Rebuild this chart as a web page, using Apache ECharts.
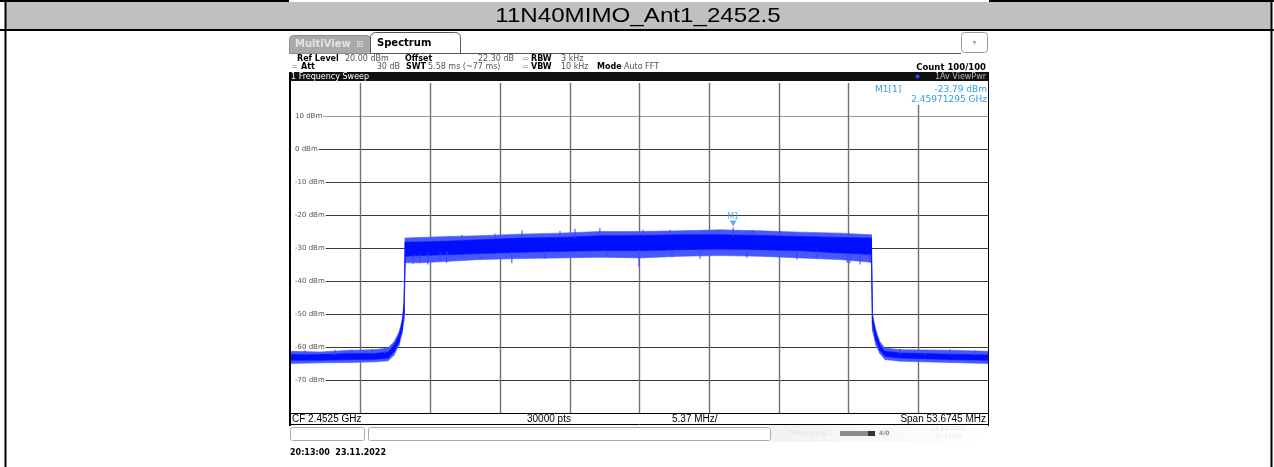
<!DOCTYPE html>
<html>
<head>
<meta charset="utf-8">
<script src="https://cdn.jsdelivr.net/npm/echarts@6/dist/echarts.min.js"></script>
<style>
html,body{margin:0;padding:0;background:#fff;}
#main{width:1274px;height:467px;}
</style>
</head>
<body>
<div id="main"></div>
<script>
// sweep: CF 2.4525 GHz, span 53.6745 MHz -> x is offset from CF in MHz
var span = 53.6745;
var mhzPerDiv = span / 10;
var yMin = -80, yMax = 20, yStep = 10;

// trace envelope (MHz offset, dBm)
var freq    = [-26.84, -24.60, -22.30, -20.37, -19.37, -18.91, -18.52, -18.29, -18.14, -18.04, -16.90, -14.59, -12.29, -9.20, -6.12, -3.04, 0.04, 3.12, 6.20, 9.27, 12.35, 15.44, 17.86, 17.94, 18.21, 18.52, 18.90, 20.06, 23.91, 26.84];
var outerHi = [-61.3, -61.5, -61.0, -60.8, -60.3, -58.5, -55.5, -52.0, -47.0, -27.0, -26.8, -26.5, -26.3, -25.8, -25.5, -25.0, -25.0, -24.8, -24.5, -24.8, -25.2, -25.5, -26.0, -50.0, -55.0, -58.5, -60.3, -60.8, -61.0, -61.3];
var coreHi  = [-62.3, -62.3, -62.0, -62.0, -61.5, -59.5, -56.5, -53.0, -48.0, -28.2, -28.2, -27.9, -27.5, -27.0, -26.8, -26.3, -26.2, -26.0, -26.0, -26.2, -26.5, -26.8, -27.0, -51.0, -56.0, -59.5, -61.3, -61.8, -62.2, -62.4];
var coreLo  = [-64.0, -64.0, -63.8, -63.7, -63.3, -61.5, -58.5, -55.0, -50.0, -32.5, -32.3, -32.0, -31.7, -31.3, -31.0, -30.8, -30.8, -30.5, -30.3, -30.5, -30.8, -31.5, -32.0, -53.0, -58.0, -61.0, -62.8, -63.3, -63.8, -64.0];
var outerLo = [-65.0, -64.8, -64.7, -64.5, -64.2, -62.5, -59.5, -56.0, -52.0, -34.5, -34.5, -34.0, -33.5, -33.2, -33.0, -32.8, -33.0, -32.5, -32.3, -32.5, -33.0, -33.5, -34.3, -55.0, -59.5, -62.0, -63.8, -64.3, -64.7, -65.0];

// single noise spikes that stick out of the band (MHz offset, top dBm, bottom dBm)
var spikeF   = [-25.76, -23.45, -22.14, -20.60, -19.60, -17.44, -16.90, -16.29, -15.36, -14.85, -13.67, -12.28, -11.13, -9.83, -9.05, -7.28, -6.12, -4.97, -3.05, -2.51, -0.04, 0.27, 2.35, 2.50, 4.66, 7.21, 8.27, 8.74, 10.82, 12.12, 13.67, 15.99, 16.21, 16.98, 17.75, 20.06, 21.98, 23.91, 25.83];
var spikeTop = [-61.0, -60.9, -60.8, -60.6, -60.0, -32.0, -32.0, -31.5, -31.5, -31.0, -26.0, -31.5, -25.6, -31.0, -24.6, -31.0, -24.8, -24.2, -23.9, -30.8, -30.5, -24.4, -24.5, -30.5, -30.3, -23.79, -30.3, -24.6, -24.8, -30.8, -30.8, -31.5, -31.5, -31.5, -31.8, -60.5, -61.0, -60.7, -61.0];
var spikeBot = [-62.5, -62.5, -62.3, -62.2, -62.0, -34.8, -34.2, -35.0, -33.8, -34.5, -28.0, -33.5, -27.2, -34.6, -27.0, -33.2, -27.0, -27.0, -26.5, -32.5, -35.7, -26.4, -26.2, -32.8, -33.3, -26.5, -33.0, -26.2, -26.4, -33.5, -33.3, -34.5, -34.6, -35.0, -34.5, -62.5, -62.6, -62.5, -62.6];

var marker = [7.21295, -23.79];

var myChart = echarts.init(document.getElementById('main'));

var FONT = 'DejaVu Sans';
var BLUE = '#0010ff';
var MK = '#2f9ee8';

function bandItem(hi, lo, color) {
	return function (params, api) {
		var i = params.dataIndex;
		if (i >= freq.length - 1) return null;
		var pts = [
			api.coord([freq[i], lo[i]]),
			api.coord([freq[i + 1], lo[i + 1]]),
			api.coord([freq[i + 1], hi[i + 1]]),
			api.coord([freq[i], hi[i]])
		];
		return {
			type: 'polygon',
			shape: { points: pts },
			style: { fill: color, stroke: color, lineWidth: 0.6 }
		};
	};
}

function txt(x, y, s, opt) {
	opt = opt || {};
	return {
		type: 'text', x: x, y: y, z: opt.z || 50,
		style: {
			text: s,
			fill: opt.color || '#000',
			font: (opt.bold ? 'bold ' : '') + (opt.size || 8) + 'px "' + (opt.family || FONT) + '"',
			textAlign: opt.align || 'left',
			textVerticalAlign: 'middle'
		}
	};
}

function hline(x1, x2, y, color, w, z) {
	return { type: 'line', z: z || 40, shape: { x1: x1, y1: y, x2: x2, y2: y }, style: { stroke: color, lineWidth: w } };
}
function vline(x, y1, y2, color, w, z) {
	return { type: 'line', z: z || 40, shape: { x1: x, y1: y1, x2: x, y2: y2 }, style: { stroke: color, lineWidth: w } };
}

var hColors = ['#3a3a3a', '#3a3a3a', '#3a3a3a', '#3a3a3a', '#3a3a3a', '#3a3a3a', '#3a3a3a', '#3a3a3a', '#9a9a9a', '#3a3a3a', '#3a3a3a'];

var graphics = [
	// table frame + title row
	{ type: 'rect', z: 1, shape: { x: 5, y: 2, width: 1267, height: 27 }, style: { fill: '#c0c0c0' } },
	hline(0, 289, 1, '#000', 2, 5),
	hline(989, 1274, 1, '#000', 2, 5),
	hline(0, 1274, 30, '#000', 2, 5),
	vline(5.5, 0, 467, '#000', 2, 5),
	vline(1271.5, 0, 467, '#000', 2, 5),
	{
		type: 'text', x: 638, y: 16.5, z: 10, scaleX: 1.15,
		style: { text: '11N40MIMO_Ant1_2452.5', fill: '#000', font: '21px "Liberation Sans"', textAlign: 'center', textVerticalAlign: 'middle' }
	},

	// tabs
	{ type: 'rect', z: 20, shape: { x: 289.5, y: 35.5, width: 81, height: 18, r: [4, 4, 0, 0] }, style: { fill: '#a9a9a9', stroke: '#8a8a8a', lineWidth: 1 } },
	txt(295, 44.5, 'MultiView', { bold: true, size: 10, color: '#e4e4e4', z: 21 }),
	txt(356, 44.5, '⊞', { size: 9, color: '#dcdcdc', z: 21 }),
	{ type: 'rect', z: 20, shape: { x: 370.5, y: 32.5, width: 90, height: 21, r: [5, 5, 0, 0] }, style: { fill: '#fff', stroke: '#555', lineWidth: 1 } },
	txt(377, 43, 'Spectrum', { bold: true, size: 10, z: 21 }),
	hline(460, 961, 53.5, '#555', 1, 20),
	{ type: 'rect', z: 20, shape: { x: 961.5, y: 32.5, width: 26, height: 20, r: 3 }, style: { fill: '#fff', stroke: '#999', lineWidth: 1 } },
	txt(974.5, 43, '▾', { size: 8, color: '#aaa', align: 'center', z: 21 }),

	// settings header
	txt(297, 58.5, 'Ref Level', { bold: true }),
	txt(345, 58.5, '20.00 dBm', { color: '#555' }),
	txt(405, 58.5, 'Offset', { bold: true }),
	txt(478, 58.5, '22.30 dB', { color: '#555' }),
	txt(522, 58.5, '=', { color: '#999' }),
	txt(531, 58.5, 'RBW', { bold: true }),
	txt(561, 58.5, '3 kHz', { color: '#555' }),
	txt(291, 67.3, '=', { color: '#999' }),
	txt(301, 67.3, 'Att', { bold: true }),
	txt(400, 67.3, '30 dB', { color: '#555', align: 'right' }),
	txt(406, 67.3, 'SWT', { bold: true }),
	txt(428, 67.3, '5.58 ms (~77 ms)', { color: '#555' }),
	txt(522, 67.3, '=', { color: '#999' }),
	txt(531, 67.3, 'VBW', { bold: true }),
	txt(561, 67.3, '10 kHz', { color: '#555' }),
	txt(597, 67.3, 'Mode', { bold: true }),
	txt(624, 67.3, 'Auto FFT', { color: '#555' }),
	txt(986, 67.8, 'Count 100/100', { bold: true, align: 'right', size: 8.5 }),

	// sweep title bar
	{ type: 'rect', z: 30, shape: { x: 289, y: 72, width: 700, height: 9 }, style: { fill: '#111' } },
	txt(291, 76.5, '1 Frequency Sweep', { color: '#fff', z: 31 }),
	{ type: 'circle', z: 31, shape: { cx: 917.5, cy: 76.5, r: 2 }, style: { fill: '#1f4fff' } },
	txt(986, 76.5, '1Av ViewPwr', { color: '#bbb', align: 'right', z: 31 }),

	// plot frame
	vline(290, 72, 426, '#000', 2, 45),
	vline(988.5, 72, 426, '#000', 1, 45),

	// marker readout
	{ type: 'rect', z: 48, shape: { x: 872, y: 82, width: 115, height: 23 }, style: { fill: '#fff' } },
	txt(875, 89.5, 'M1[1]', { color: MK, size: 9 }),
	txt(987, 89.5, '-23.79 dBm', { color: MK, align: 'right', size: 9 }),
	txt(987, 99.5, '2.45971295 GHz', { color: MK, align: 'right', size: 9 }),

	// footer
	{ type: 'rect', z: 46, shape: { x: 290.5, y: 413.5, width: 698, height: 11 }, style: { fill: '#fff', stroke: '#000', lineWidth: 1 } },
	txt(292, 419.3, 'CF 2.4525 GHz', { family: 'Liberation Sans', size: 10, z: 47 }),
	txt(527, 419.3, '30000 pts', { family: 'Liberation Sans', size: 10, z: 47 }),
	txt(672, 419.3, '5.37 MHz/', { family: 'Liberation Sans', size: 10, z: 47 }),
	txt(986, 419.3, 'Span 53.6745 MHz', { family: 'Liberation Sans', size: 10, align: 'right', z: 47 }),

	// status row
	{ type: 'rect', z: 20, shape: { x: 290.5, y: 427.5, width: 74, height: 13, r: 2 }, style: { fill: '#fff', stroke: '#aaa', lineWidth: 1 } },
	{ type: 'rect', z: 20, shape: { x: 368.5, y: 427.5, width: 402, height: 13, r: 2 }, style: { fill: '#fff', stroke: '#aaa', lineWidth: 1 } },
	{
		type: 'rect', z: 20, shape: { x: 771, y: 425, width: 218, height: 17 },
		style: { fill: new echarts.graphic.LinearGradient(0, 0, 1, 0, [{ offset: 0, color: '#f2f2f2' }, { offset: 1, color: '#ffffff' }]) }
	},
	txt(790, 433, 'Measuring...', { color: '#e2e2e2', size: 7, z: 21 }),
	{ type: 'rect', z: 21, shape: { x: 840, y: 431, width: 28, height: 5 }, style: { fill: '#8a8a8a' } },
	{ type: 'rect', z: 21, shape: { x: 868, y: 431, width: 7, height: 5 }, style: { fill: '#333' } },
	txt(879, 433.5, '4/0', { color: '#888', bold: true, size: 6, z: 21 }),
	txt(948, 428.5, '23.11.2022', { color: '#e2e2e2', size: 6, align: 'center', z: 21 }),
	txt(948, 436, '20:13:00', { color: '#eaeaea', size: 6, align: 'center', z: 21 }),

	// time stamp
	txt(290, 452.5, '20:13:00  23.11.2022', { bold: true, z: 21 })
];

var option = {
	animation: false,
	backgroundColor: '#fff',
	grid: { left: 291, top: 83, width: 697, height: 330, show: false },
	xAxis: {
		type: 'value',
		min: -5 * mhzPerDiv,
		max: 5 * mhzPerDiv,
		interval: mhzPerDiv,
		axisLine: { show: false },
		axisTick: { show: false },
		axisLabel: { show: false },
		splitLine: { show: true, showMinLine: false, showMaxLine: false, lineStyle: { color: '#707070', width: 1.4 } }
	},
	yAxis: {
		type: 'value',
		min: yMin,
		max: yMax,
		interval: yStep,
		axisLine: { show: false },
		axisTick: { show: false },
		axisLabel: {
			inside: true,
			margin: 0,
			color: '#555',
			fontFamily: FONT,
			fontSize: 7,
			backgroundColor: '#fff',
			padding: [0, 1, 0, 4],
			formatter: function (v) {
				if (v >= yMax || v <= yMin) return '';
				return v + ' dBm';
			}
		},
		splitLine: { show: true, showMinLine: false, showMaxLine: false, lineStyle: { color: hColors, width: 1 } }
	},
	graphic: { elements: graphics },
	series: [
		{
			name: 'outer',
			type: 'custom',
			clip: true,
			renderItem: bandItem(outerHi, outerLo, '#4858ff'),
			data: freq.map(function (f, i) { return [f, outerHi[i], outerLo[i]]; }),
			encode: { x: 0, y: [1, 2] },
			z: 3
		},
		{
			name: 'core',
			type: 'custom',
			clip: true,
			renderItem: bandItem(coreHi, coreLo, BLUE),
			data: freq.map(function (f, i) { return [f, coreHi[i], coreLo[i]]; }),
			encode: { x: 0, y: [1, 2] },
			z: 4
		},
		{
			name: 'spikes',
			type: 'custom',
			clip: true,
			renderItem: function (params, api) {
				var a = api.coord([api.value(0), api.value(1)]);
				var b = api.coord([api.value(0), api.value(2)]);
				return { type: 'line', shape: { x1: a[0], y1: a[1], x2: b[0], y2: b[1] }, style: { stroke: '#3344ff', lineWidth: 1 } };
			},
			data: spikeF.map(function (f, i) { return [f, spikeTop[i], spikeBot[i]]; }),
			encode: { x: 0, y: [1, 2] },
			z: 5
		},
		{
			name: 'M1',
			type: 'scatter',
			data: [marker],
			symbol: 'triangle',
			symbolRotate: 180,
			symbolSize: [7, 6],
			symbolOffset: [0, -4],
			itemStyle: { color: MK },
			label: { show: true, formatter: 'M1', position: 'top', distance: 0, color: MK, fontFamily: FONT, fontSize: 8 },
			z: 10
		}
	]
};

myChart.setOption(option);
</script>
</body>
</html>
